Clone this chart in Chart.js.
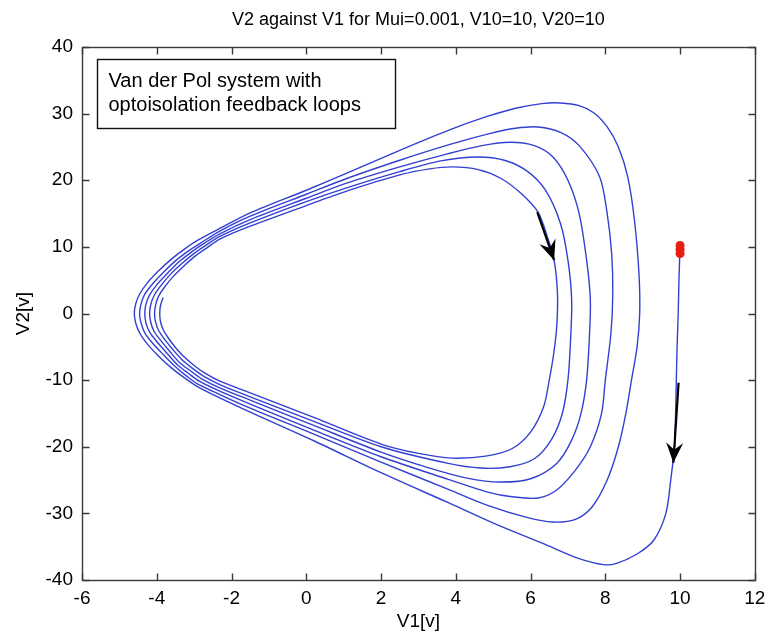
<!DOCTYPE html>
<html><head><meta charset="utf-8">
<script src="https://cdn.jsdelivr.net/npm/chart.js@4/dist/chart.umd.min.js"></script>
<style>html,body{margin:0;padding:0;background:#fff}#wrap{width:773px;height:637px}</style>
</head><body><div id="wrap"><canvas id="c" width="773" height="637"></canvas></div>
<script>
// Trajectory V1 (x) and V2 (y), lap by lap
const v1 = [
  10.0,9.97,9.95,9.92,9.9,9.88,9.85,9.75,9.62,9.3,8.85,8.3,7.95,7.3,6.45,5.1,3.8,2.0,0.2,-1.5,-2.3,-2.9,-3.25,-3.6,-3.95,-4.25,-4.45,-4.56,-4.6,
  -4.56,-4.45,-4.25,-3.95,-3.6,-3.25,-2.9,-2.3,-1.5,0,1.1,2.5,3.8,4.8,5.6,6.3,6.8,7.3,7.7,8.05,8.35,8.6,8.78,8.9,8.92,8.85,8.7,
  8.55,8.35,8.05,7.65,7.2,6.6,5.9,4.85,3.8,2.0,0.2,-1.5,-2.3,-2.9,-3.2,-3.5,-3.82,-4.12,-4.32,-4.42,-4.46,
  -4.42,-4.32,-4.12,-3.82,-3.5,-3.15,-2.85,-2.3,-1.5,0,1.1,2.5,3.8,4.9,5.6,6.2,6.8,7.3,7.85,8.05,8.17,8.2,8.15,8.0,
  7.9,7.6,7.2,6.7,6.2,5.5,4.85,3.8,2.0,0.2,-1.5,-2.3,-2.85,-3.15,-3.45,-3.72,-4.0,-4.19,-4.29,-4.32,
  -4.29,-4.19,-4.0,-3.72,-3.42,-3.1,-2.8,-2.3,-1.5,0,1.1,2.5,3.8,4.7,5.45,6.1,6.6,7.0,7.3,7.5,7.6,7.57,7.5,
  7.35,7.1,6.7,6.0,5.2,4.3,3.3,2.0,0.2,-1.5,-2.3,-2.8,-3.1,-3.4,-3.65,-3.9,-4.07,-4.16,-4.19,
  -4.16,-4.07,-3.9,-3.65,-3.35,-3.05,-2.75,-2.3,-1.5,0,1.1,2.5,3.6,4.6,5.3,5.9,6.4,6.8,7.0,7.1,7.07,7.0,
  6.85,6.55,6.1,5.45,4.66,3.8,2.0,0.2,-1.5,-2.3,-2.75,-3.05,-3.33,-3.57,-3.8,-3.95,-4.03,-4.06,
  -4.03,-3.95,-3.8,-3.57,-3.28,-3.0,-2.7,-2.3,-1.5,0,1.1,2.5,3.3,3.9,4.6,5.2,5.75,6.2,6.45,6.63,6.72,6.7,6.62,6.5,
  6.35,6.0,5.5,4.8,3.9,3.0,2.0,0.2,-1.5,-2.3,-2.7,-3.0,-3.27,-3.5,-3.7,-3.83,-3.9,-3.92,-3.9,-3.83
];
const v2 = [
  10.0,5.0,0.0,-5.0,-10.0,-15.0,-20.0,-25.0,-30.0,-34.0,-36.1,-37.5,-37.7,-36.8,-34.8,-31.7,-28.4,-23.9,-19.1,-14.8,-12.7,-11.0,-9.7,-8.2,-6.4,-4.6,-3.0,-1.5,0,
  1.5,3.0,4.6,6.4,8.2,9.7,11.0,12.8,15.1,18.5,21.1,24.5,27.5,29.5,30.8,31.5,31.6,31.2,30.1,28.0,25.0,20.5,14.0,6.0,0,-5.0,-10.0,
  -15,-20,-25,-29,-30.9,-31.3,-30.6,-28.8,-26.4,-22.3,-18.1,-14.2,-12.2,-10.6,-9.4,-8.0,-6.2,-4.4,-2.9,-1.45,0,
  1.45,2.9,4.4,6.2,7.9,9.4,10.5,12.4,14.6,17.9,20.3,23.0,25.3,27.0,27.8,28.0,27.2,25.2,20.5,15.0,9.0,3.0,-3.0,-10.0,
  -15,-20,-23.5,-26.5,-27.7,-27.5,-26.8,-24.9,-21.5,-17.5,-13.6,-11.7,-10.2,-9.0,-7.7,-6.0,-4.2,-2.8,-1.4,0,
  1.4,2.8,4.3,6.0,7.7,9.1,10.3,12.0,14.1,17.3,19.6,22.0,24.0,25.2,25.7,25.2,23.5,20.0,15.0,8.0,2.0,-4.0,-10.0,
  -15,-19,-22.5,-24.8,-25.3,-24.7,-23.2,-20.8,-16.8,-13.0,-11.2,-9.8,-8.6,-7.3,-5.7,-4.0,-2.7,-1.35,0,
  1.35,2.7,4.1,5.8,7.4,8.8,10.0,11.6,13.6,16.8,18.9,21.3,22.9,23.5,23.0,21.4,18.5,13.5,8.0,2.0,-4.0,-10.0,
  -15,-19,-21.8,-23.0,-23.2,-22.5,-20.0,-16.2,-12.5,-10.7,-9.4,-8.2,-6.9,-5.4,-3.8,-2.55,-1.3,0,
  1.3,2.6,3.9,5.5,7.1,8.5,9.7,11.2,13.1,16.2,18.4,20.8,21.7,22.0,21.6,20.3,18.0,15.2,11.5,8.0,3.0,-2.0,-6.0,-10.0,
  -14,-17.8,-20.3,-21.4,-21.7,-21.0,-19.6,-15.6,-11.9,-10.2,-9.0,-7.8,-6.5,-5.1,-3.6,-2.4,-1.2,0,1.2,2.4
];
// Initial condition markers (red)
const startV1 = [10, 10, 10];
const startV2 = [10.2, 9.6, 9.0];
// Direction arrows (tail -> tip)
const arrowTailV1 = [6.18, 9.96];
const arrowTailV2 = [15.2, -10.4];
const arrowTipV1 = [6.63, 9.82];
const arrowTipV2 = [8.0, -22.4];
// Axes
const xTicks = [-6, -4, -2, 0, 2, 4, 6, 8, 10, 12];
const yTicks = [-40, -30, -20, -10, 0, 10, 20, 30, 40];
const titleText = 'V2 against V1 for Mui=0.001, V10=10, V20=10';
const xLabel = 'V1[v]';
const yLabel = 'V2[v]';
const noteLines = ['Van der Pol system with', 'optoisolation feedback loops'];

const FONT = "'Liberation Sans', Arial, Helvetica, sans-serif";
const pts = (xs, ys) => xs.map((x, i) => ({x, y: ys[i]}));

const matlabFrame = {
  id: 'matlabFrame',
  afterDatasetsDraw(chart) {
    const {ctx, scales: {x, y}} = chart;
    ctx.save();
    ctx.fillStyle = '#000';
    for (let i = 0; i < arrowTipV1.length; i++) {
      const tx = x.getPixelForValue(arrowTipV1[i]), ty = y.getPixelForValue(arrowTipV2[i]);
      const sx = x.getPixelForValue(arrowTailV1[i]), sy = y.getPixelForValue(arrowTailV2[i]);
      const d = Math.hypot(tx - sx, ty - sy), ux = (tx - sx) / d, uy = (ty - sy) / d;
      const L = 20, W = 8.5, N = 13;
      const bx = tx - ux * L, by = ty - uy * L;
      ctx.beginPath();
      ctx.moveTo(tx, ty);
      ctx.lineTo(bx - uy * W, by + ux * W);
      ctx.lineTo(tx - ux * N, ty - uy * N);
      ctx.lineTo(bx + uy * W, by - ux * W);
      ctx.closePath();
      ctx.fill();
    }
    ctx.restore();
  },
  afterDraw(chart) {
    const {ctx, chartArea: a, scales: {x, y}} = chart;
    ctx.save();
    ctx.strokeStyle = '#3a3a3a';
    ctx.lineWidth = 1.4;
    const L = Math.round(a.left) + 0.5, R = Math.round(a.right) + 0.5;
    const T = Math.round(a.top) + 0.5, B = Math.round(a.bottom) + 0.5;
    ctx.strokeRect(L, T, R - L, B - T);
    const tl = 7;
    ctx.beginPath();
    xTicks.forEach(v => {
      const px = Math.round(x.getPixelForValue(v)) + 0.5;
      ctx.moveTo(px, B); ctx.lineTo(px, B - tl);
      ctx.moveTo(px, T); ctx.lineTo(px, T + tl);
    });
    yTicks.forEach(v => {
      const py = Math.round(y.getPixelForValue(v)) + 0.5;
      ctx.moveTo(L, py); ctx.lineTo(L + tl, py);
      ctx.moveTo(R, py); ctx.lineTo(R - tl, py);
    });
    ctx.stroke();
    // annotation box
    const bx = Math.round(a.left) + 15.5, by = Math.round(a.top) + 12.5, bw = 298, bh = 69;
    ctx.fillStyle = '#fff';
    ctx.fillRect(bx, by, bw, bh);
    ctx.strokeStyle = '#111';
    ctx.lineWidth = 1.4;
    ctx.strokeRect(bx, by, bw, bh);
    ctx.fillStyle = '#000';
    ctx.font = '20px ' + FONT;
    ctx.textBaseline = 'alphabetic';
    ctx.textAlign = 'left';
    ctx.fillText(noteLines[0], bx + 11, by + 27);
    ctx.fillText(noteLines[1], bx + 11, by + 51);
    ctx.restore();
  }
};

new Chart(document.getElementById('c'), {
  type: 'scatter',
  data: {
    datasets: [
      {
        data: pts(v1, v2), showLine: true, borderColor: 'rgb(50,64,210)', borderWidth: 1.4,
        pointRadius: 0, tension: 0.3, fill: false, order: 3
      },
      {
        data: pts(startV1, startV2), showLine: false, pointRadius: 4.5, pointStyle: 'circle',
        backgroundColor: 'rgb(230,30,20)', borderWidth: 0, order: 2
      },
      {
        data: pts([arrowTailV1[0], arrowTipV1[0]], [arrowTailV2[0], arrowTipV2[0]]), showLine: true,
        borderColor: '#000', borderWidth: 2.2, pointRadius: 0, order: 1
      },
      {
        data: pts([arrowTailV1[1], arrowTipV1[1]], [arrowTailV2[1], arrowTipV2[1]]), showLine: true,
        borderColor: '#000', borderWidth: 2.2, pointRadius: 0, order: 1
      }
    ]
  },
  options: {
    responsive: false,
    animation: false,
    devicePixelRatio: 1,
    layout: {padding: {left: 0, right: 15, top: 0, bottom: 0}},
    plugins: {
      legend: {display: false},
      tooltip: {enabled: false},
      title: {
        display: true, text: titleText, fullSize: false, color: '#000',
        font: {family: FONT, size: 18, weight: 'normal'},
        padding: {top: 9.2, bottom: 16.2}
      }
    },
    scales: {
      x: {
        type: 'linear', min: -6, max: 12,
        grid: {display: false, drawTicks: false, tickLength: 0}, border: {display: false},
        afterBuildTicks: s => { s.ticks = xTicks.map(v => ({value: v})); },
        afterFit: s => { s.height = 57; },
        ticks: {autoSkip: false, maxRotation: 0, padding: 7.6, color: '#000', font: {family: FONT, size: 19}},
        title: {display: true, text: xLabel, color: '#000', font: {family: FONT, size: 19}, padding: {top: 0, bottom: 3.6}}
      },
      y: {
        type: 'linear', min: -40, max: 40,
        grid: {display: false, drawTicks: false, tickLength: 0}, border: {display: false},
        afterBuildTicks: s => { s.ticks = yTicks.map(v => ({value: v})); },
        afterFit: s => { s.width = 82; },
        ticks: {autoSkip: false, padding: 9, color: '#000', font: {family: FONT, size: 19}},
        title: {display: true, text: yLabel, color: '#000', font: {family: FONT, size: 19}, padding: {top: 12.6, bottom: 0}}
      }
    }
  },
  plugins: [matlabFrame]
});
</script>
</body></html>
